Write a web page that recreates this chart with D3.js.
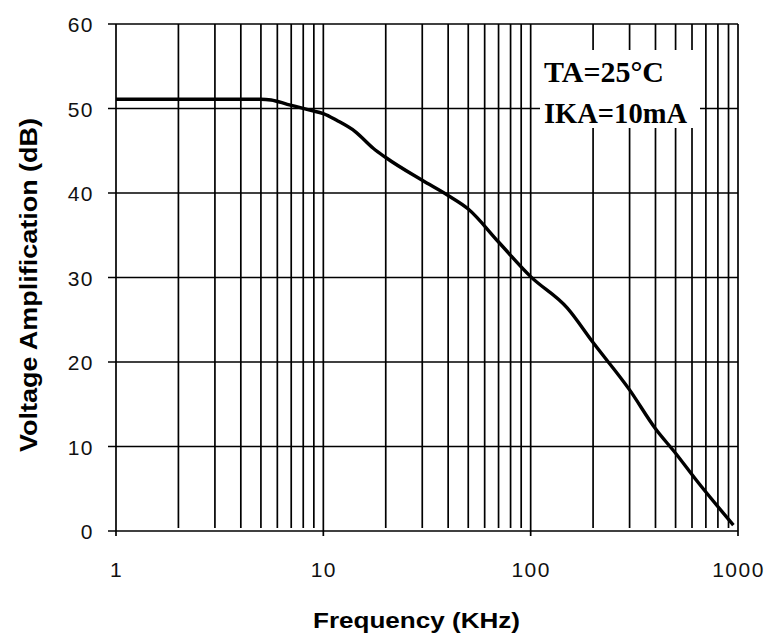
<!DOCTYPE html>
<html>
<head>
<meta charset="utf-8">
<script src="https://cdn.jsdelivr.net/npm/d3@7"></script>
<style>
  body { margin: 0; background: #fff; }
  svg { display: block; }
  .tick text { font-family: "Liberation Sans", Arial, sans-serif; font-size: 21px; letter-spacing: 1.5px; fill: #111; }
</style>
</head>
<body>
<script>
// chart data
var freq = [1, 2, 3, 4, 5, 5.6, 6.7, 8.6, 10, 11.6, 14.2, 17.4, 20, 30, 40, 50, 70, 100, 150, 200, 300, 400, 500, 630, 950];
var gain = [51.1, 51.1, 51.1, 51.1, 51.1, 51.0, 50.5, 49.8, 49.4, 48.6, 47.3, 45.3, 44.2, 41.5, 39.7, 38.1, 34.2, 30.1, 26.4, 22.3, 16.7, 12.1, 9.2, 6, 0.7];
var xTicks = [1, 10, 100, 1000];
var yTicks = [0, 10, 20, 30, 40, 50, 60];
var notes = ["TA=25°C", "IKA=10mA"];

var width = 768, height = 640;
var margin = {top: 24, right: 30, bottom: 109, left: 116};

var data = freq.map((f, i) => ({f: f, v: gain[i]}));

var x = d3.scaleLog()
  .domain([1, 1000])
  .range([margin.left, width - margin.right]);

var y = d3.scaleLinear()
  .domain([0, 60])
  .range([height - margin.bottom, margin.top]);

// minor grid values 2..9 per decade
var minor = [];
[1, 10, 100].forEach(d => { for (var k = 2; k <= 9; k++) minor.push(d * k); });
minor = minor.filter(v => xTicks.indexOf(v) < 0);

var svg = d3.select("body").append("svg")
  .attr("width", width)
  .attr("height", height)
  .attr("viewBox", [0, 0, width, height]);

var x0 = x(1), x1 = x(1000), y0 = y(0), y1 = y(60);
var gw = 1.7;

// vertical minor grid
svg.append("g")
  .attr("stroke", "#000")
  .attr("stroke-width", gw)
  .selectAll("line")
  .data(minor).enter()
  .append("line")
    .attr("x1", d => x(d)).attr("x2", d => x(d))
    .attr("y1", y1).attr("y2", y0 - 3);

// horizontal grid, extending left as ticks
svg.append("g")
  .attr("stroke", "#000")
  .attr("stroke-width", gw)
  .selectAll("line")
  .data(yTicks).enter()
  .append("line")
    .attr("x1", x0 - 8).attr("x2", x1)
    .attr("y1", d => y(d)).attr("y2", d => y(d));

// white box behind the notes
svg.append("rect")
  .attr("x", 540).attr("y", 50)
  .attr("width", 160).attr("height", 78)
  .attr("fill", "#fff");

// major vertical lines with a small tick below
svg.append("g")
  .attr("stroke", "#000")
  .attr("stroke-width", gw)
  .selectAll("line")
  .data(xTicks).enter()
  .append("line")
    .attr("x1", d => x(d)).attr("x2", d => x(d))
    .attr("y1", y1).attr("y2", y0 + 5);

// axes (labels only, lines drawn above)
var xAxis = d3.axisBottom(x)
  .tickValues(xTicks)
  .tickFormat(d3.format("d"))
  .tickSize(5)
  .tickPadding(26);

var yAxis = d3.axisLeft(y)
  .tickValues(yTicks)
  .tickSize(8)
  .tickPadding(14);

svg.append("g")
  .attr("transform", `translate(0,${y0})`)
  .call(xAxis)
  .call(g => g.select(".domain").remove())
  .call(g => g.selectAll(".tick line").remove());

svg.append("g")
  .attr("transform", `translate(${x0},0)`)
  .call(yAxis)
  .call(g => g.select(".domain").remove())
  .call(g => g.selectAll(".tick line").remove())
  .call(g => g.selectAll(".tick text").attr("dy", "0.36em"));

// curve
var line = d3.line()
  .x(d => x(d.f))
  .y(d => y(d.v))
  .curve(d3.curveMonotoneX);

svg.append("path")
  .datum(data)
  .attr("fill", "none")
  .attr("stroke", "#000")
  .attr("stroke-width", 3.4)
  .attr("stroke-linejoin", "round")
  .attr("d", line);

// notes
svg.append("g")
  .attr("font-family", "'Liberation Serif', 'Times New Roman', serif")
  .attr("font-weight", "bold")
  .attr("font-size", 30)
  .selectAll("text")
  .data(notes).enter()
  .append("text")
    .attr("x", 544)
    .attr("y", (d, i) => 82 + i * 41)
    .attr("textLength", (d, i) => i ? 143 : 120)
    .attr("lengthAdjust", "spacingAndGlyphs")
    .text(d => d);

// axis titles
svg.append("text")
  .attr("x", 313)
  .attr("y", 628)
  .attr("font-family", "'Liberation Sans', Arial, sans-serif")
  .attr("font-weight", "bold")
  .attr("font-size", 22)
  .attr("textLength", 207)
  .attr("lengthAdjust", "spacingAndGlyphs")
  .text("Frequency (KHz)");

svg.append("text")
  .attr("transform", "translate(37,452) rotate(-90)")
  .attr("font-family", "'Liberation Sans', Arial, sans-serif")
  .attr("font-weight", "bold")
  .attr("font-size", 24)
  .attr("textLength", 334)
  .attr("lengthAdjust", "spacingAndGlyphs")
  .text("Voltage Amplification (dB)");
</script>
</body>
</html>
